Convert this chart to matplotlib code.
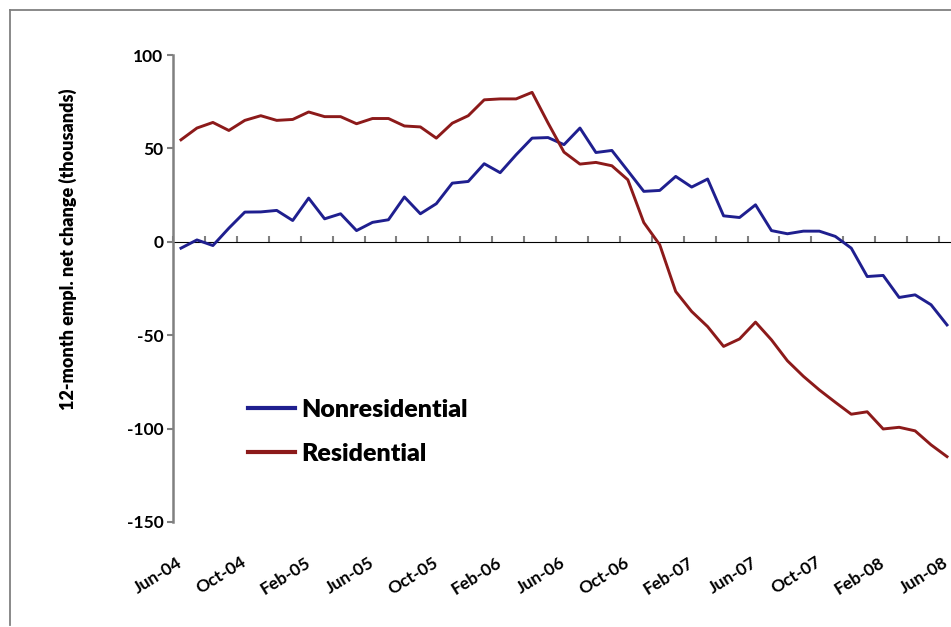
import numpy as np
import matplotlib
matplotlib.use('Agg')
import matplotlib.pyplot as plt
from matplotlib.lines import Line2D

plt.rcParams['font.family'] = ['Lato', 'DejaVu Sans']
plt.rcParams['font.weight'] = 'bold'
plt.rcParams['axes.unicode_minus'] = False

# monthly, Jun-04 .. Jun-08 (49 months)
nonresidential = [-3.4, 1, -2, 7.3, 15.9, 16, 16.8, 11.4, 23.4, 12.3,
                  15, 6, 10.4, 11.8, 24, 15, 20.4, 31.4, 32.3, 41.8,
                  37, 46.6, 55.5, 55.8, 52, 60.9, 47.8, 48.9, 38, 27,
                  27.5, 35, 29.3, 33.6, 13.9, 13, 19.8, 6, 4.3, 5.7,
                  5.7, 2.9, -3.4, -18.6, -18, -29.8, -28.4, -33.7, -44.5]
residential = [54.6, 60.9, 63.9, 59.6, 65, 67.5, 65, 65.5, 69.5, 67,
               67, 63.2, 66, 66, 62, 61.5, 55.5, 63.5, 67.5, 76,
               76.5, 76.5, 80, 63.6, 48, 41.6, 42.5, 40.7, 33.2, 10.3,
               -1.6, -26.6, -37.3, -45.4, -56, -52, -43, -52.5, -63.7, -72,
               -79.3, -85.9, -92.3, -91, -100.2, -99.3, -101.2, -108.7, -115]
tick_labels = ['Jun-04', 'Oct-04', 'Feb-05', 'Jun-05', 'Oct-05', 'Feb-06', 'Jun-06',
               'Oct-06', 'Feb-07', 'Jun-07', 'Oct-07', 'Feb-08', 'Jun-08']

x = np.arange(len(nonresidential))
gray = '#808080'

fig = plt.figure(figsize=(9.51, 6.27), dpi=100)
ax = fig.add_axes([173/951, 105/627, 778/951, 467/627])

l1, = ax.plot(x, nonresidential, color='#1f1f8f', lw=2.1, label='Nonresidential', zorder=3)
l2, = ax.plot(x, residential, color='#8c1a1a', lw=2.1, label='Residential', zorder=3)

ax.set_xlim(-0.5, 48.25)
ax.set_ylim(-150, 100)
ax.set_yticks([100, 50, 0, -50, -100, -150])
ax.tick_params(axis='y', direction='out', length=4, width=1.5, color=gray,
               labelsize=12.5, pad=3)
for s in ['top', 'right', 'bottom']:
    ax.spines[s].set_visible(False)
ax.spines['left'].set_color(gray)
ax.spines['left'].set_linewidth(1.8)

ax.set_xticks(x[::4])
ax.set_xticklabels(tick_labels, rotation=32, ha='right', va='center',
                   rotation_mode='anchor', fontsize=12.5)
ax.tick_params(axis='x', length=0, pad=28)

# zero line with tick marks between categories
zax = ax.secondary_xaxis(0.6)
zax.spines['bottom'].set_color(gray)
zax.spines['bottom'].set_linewidth(1.8)
zax.set_xticks(np.arange(-0.5, 48.3, 2))
zax.set_xticklabels([])
zax.tick_params(direction='out', length=4, width=1.5, color=gray)

ax.set_ylabel('12-month empl. net change (thousands)', fontsize=13, fontweight='heavy')
ax.yaxis.set_label_coords(-0.124, 0.585)

leg = ax.legend(handles=[l1, l2], loc='center left', bbox_to_anchor=(0.068, 0.193),
                frameon=False, handlelength=1.85, handletextpad=0.25,
                labelspacing=0.9, prop={'size': 18, 'weight': 'heavy'})
for h in leg.get_lines():
    h.set_linewidth(3)

# chart frame
fig.add_artist(Line2D([10/951, 10/951], [2/627, 617/627], color=gray, lw=1.3))
fig.add_artist(Line2D([10/951, 1.0], [617/627, 617/627], color=gray, lw=1.3))

fig.savefig('out.png', dpi=100)
